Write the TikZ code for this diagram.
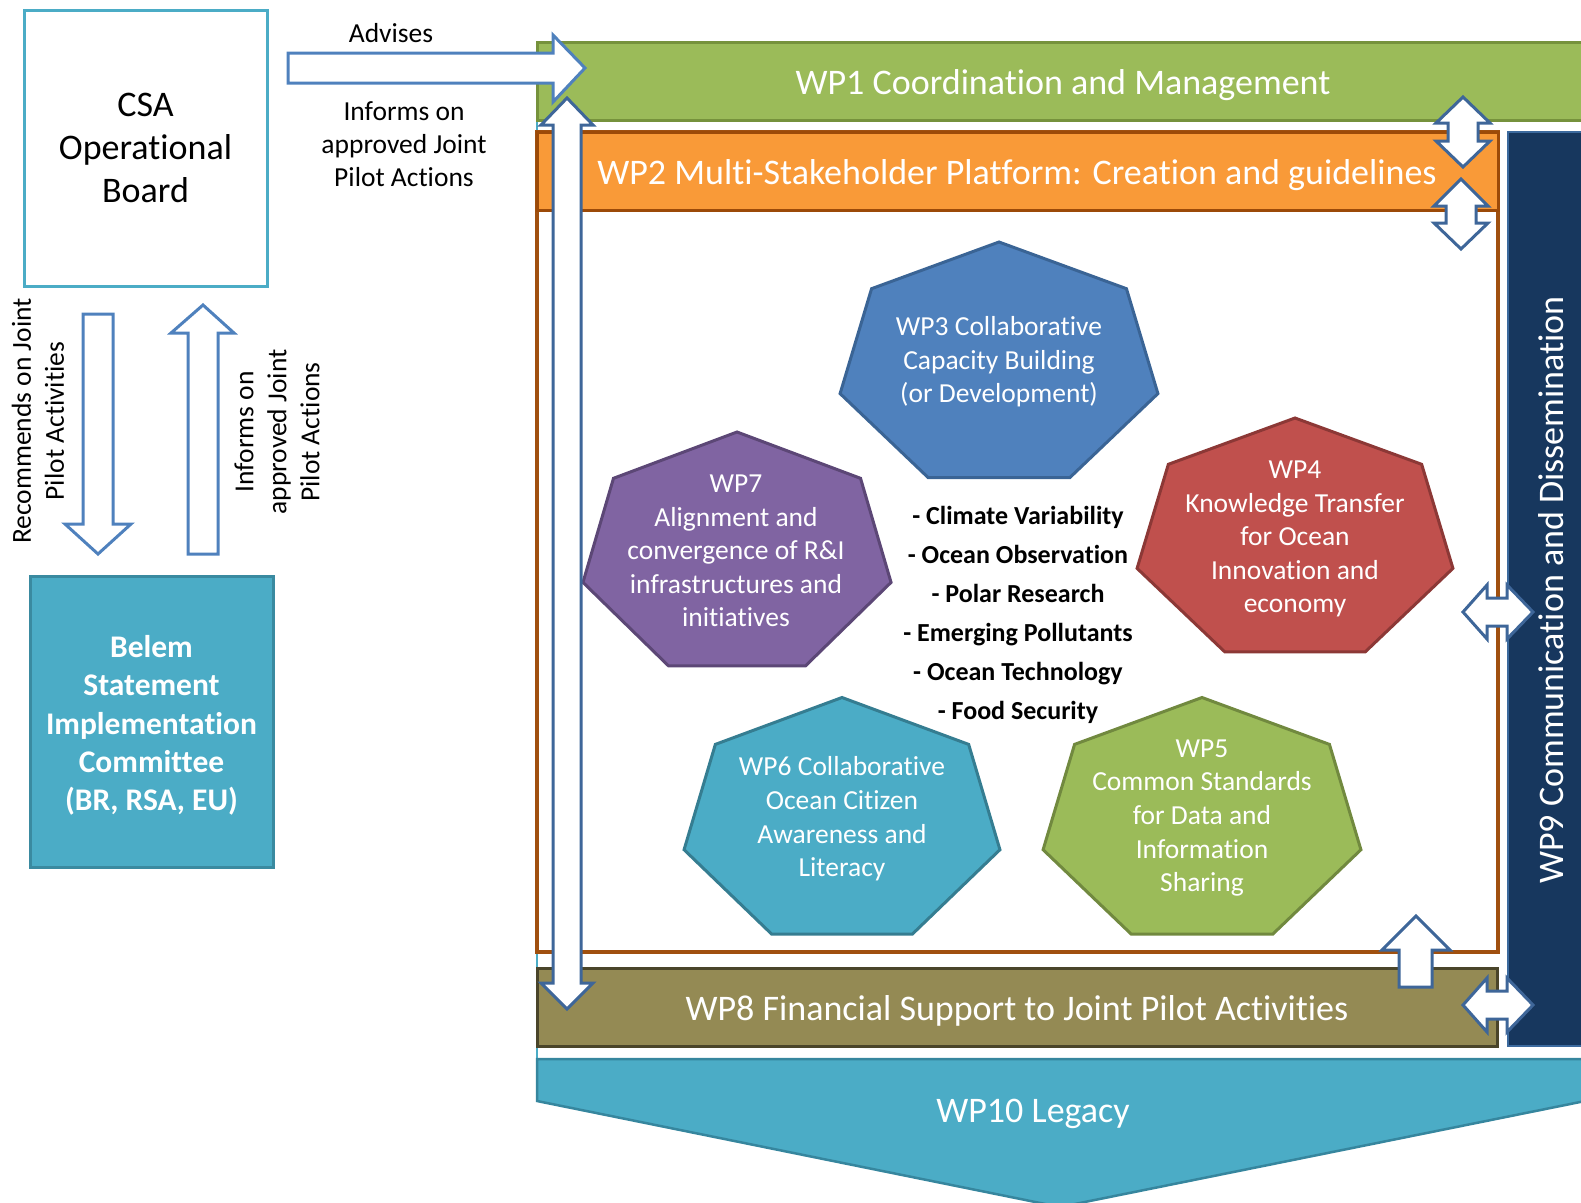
\documentclass[tikz,border=0pt]{standalone}
\usepackage{fontspec}
\setmainfont{Carlito}[Ligatures={NoCommon,NoContextual},Contextuals=NoAlternate]
\definecolor{csablue}{HTML}{4BACC6}
\definecolor{arrowblue}{HTML}{4F81BD}
\definecolor{arrowdark}{HTML}{3E6699}
\definecolor{wpone}{HTML}{9BBB59}
\definecolor{wponeline}{HTML}{76923C}
\definecolor{wptwo}{HTML}{F99A38}
\definecolor{wptwoline}{HTML}{9C4A08}
\definecolor{framecol}{HTML}{A0500F}
\definecolor{wpnine}{HTML}{17375E}
\definecolor{wpnineline}{HTML}{3C6A9E}
\definecolor{wpeight}{HTML}{948A54}
\definecolor{wpeightline}{HTML}{4A452A}
\definecolor{wpten}{HTML}{4BACC6}
\definecolor{wptenline}{HTML}{36869E}
\definecolor{belemfill}{HTML}{4BACC6}
\definecolor{belemline}{HTML}{3A8AA0}
\definecolor{hthree}{HTML}{4F81BD}
\definecolor{hthreeline}{HTML}{3A6495}
\definecolor{hseven}{HTML}{8064A2}
\definecolor{hsevenline}{HTML}{5C4776}
\definecolor{hfour}{HTML}{C0504D}
\definecolor{hfourline}{HTML}{8C3836}
\definecolor{hsix}{HTML}{4BACC6}
\definecolor{hsixline}{HTML}{357D91}
\definecolor{hfive}{HTML}{9BBB59}
\definecolor{hfiveline}{HTML}{71893F}
\newcommand\myheptagon[5]{%
  \draw[#5] ({#1},{#2-#4})
  \foreach \k in {1,...,6}{ -- ({#1+#3*cos(-90+\k*360/7)},{#2+#4*sin(-90+\k*360/7)}) } -- cycle;}
\begin{document}
\begin{tikzpicture}[x=1pt,y=-1pt,
  bigtext/.style={text=white,font=\fontsize{36}{43}\selectfont},
  smalllabel/.style={text=black,align=center,font=\fontsize{27.5}{33}\selectfont},
  hepttext/.style={text=white,align=center,font=\fontsize{27.5}{33.6}\selectfont},
  blockarrow/.style={draw=arrowblue,fill=white,line width=3pt,line join=miter},
  darkarrow/.style={draw=arrowdark,fill=white,line width=3pt,line join=miter},
  barbox/.style={line width=3pt,minimum height=78pt,inner sep=0pt,outer sep=0pt}]
\useasboundingbox (0,0) rectangle (1581,1202);
\clip (0,0) rectangle (1581,1202);
% thin left guide line
\draw[csablue,line width=1.2pt] (537,42) -- (537,1062);
% WP10 legacy
\draw[fill=wpten,draw=wptenline,line width=2.5pt] (537,1059) -- (1600,1059) -- (1600,1098) -- (1060,1207) -- (537,1101) -- cycle;
\node[bigtext] (wp10) at (1033,1114) {WP10 Legacy};
% WP1
\node[barbox,fill=wpone,draw=wponeline,minimum width=1063pt] (wp1) at (1068.5,81) {};
\node[bigtext] (wp1t) at (1063,85) {WP1 Coordination and Management};
% frame
\draw[framecol,line width=4pt] (537,132) rectangle (1498,952);
% WP2
\node[barbox,fill=wptwo,draw=wptwoline,minimum width=961pt] (wp2) at (1017.5,171) {};
\node[bigtext] (wp2t) at (1017,175) {WP2 Multi-Stakeholder Platform: Creation and guidelines};
% WP8
\node[barbox,fill=wpeight,draw=wpeightline,minimum width=960pt] (wp8) at (1017,1007) {};
\node[bigtext] (wp8t) at (1017,1011) {WP8 Financial Support to Joint Pilot Activities};
% WP9
\draw[fill=wpnine,draw=wpnineline,line width=2pt] (1508,132) rectangle (1600,1046);
\node[bigtext,rotate=90] (wp9) at (1551,590) {WP9 Communication and Dissemination};
% CSA board
\node[draw=csablue,line width=3pt,minimum width=243pt,minimum height=276pt,inner sep=0pt,
  align=center,font=\fontsize{36}{43}\selectfont] (csa) at (145.5,148) {CSA\\Operational\\Board};
% Belem committee
\node[draw=belemline,fill=belemfill,line width=3pt,minimum width=243pt,minimum height=291pt,inner sep=0pt,
  text=white] (belem) at (151.5,721.5) {};
\node[align=center,text=white,font=\bfseries\fontsize{31.5}{38.3}\selectfont] (belemt) at (151.5,725.5)
  {Belem\\Statement\\Implementation\\Committee\\(BR, RSA, EU)};
% heptagons
\myheptagon{999}{366}{163}{124}{fill=hthree,draw=hthreeline,line width=3pt}
\myheptagon{737}{555}{158}{123}{fill=hseven,draw=hsevenline,line width=3pt}
\myheptagon{1295}{541}{162}{123}{fill=hfour,draw=hfourline,line width=3pt}
\myheptagon{842}{822}{162}{124.5}{fill=hsix,draw=hsixline,line width=3pt}
\myheptagon{1202}{822}{163}{124.5}{fill=hfive,draw=hfiveline,line width=3pt}
\node[hepttext] (wp3) at (999,362) {WP3 Collaborative\\Capacity Building\\(or Development)};
\node[hepttext] (wp7) at (736,551) {WP7\\Alignment and\\convergence of R\&I\\infrastructures and\\initiatives};
\node[hepttext] (wp4) at (1295,539) {WP4\\Knowledge Transfer\\for Ocean\\Innovation and\\economy};
\node[hepttext] (wp6) at (842,819) {WP6 Collaborative\\Ocean Citizen\\Awareness and\\Literacy};
\node[hepttext] (wp5) at (1202,818) {WP5\\Common Standards\\for Data and\\Information\\Sharing};
\node[align=center,font=\bfseries\fontsize{26}{39}\selectfont] (topics) at (1018,615)
  {- Climate Variability\\- Ocean Observation\\- Polar Research\\- Emerging Pollutants\\- Ocean Technology\\- Food Security};
% labels
\node[smalllabel] (adv) at (391,33) {Advises};
\node[smalllabel] (inf) at (404,144) {Informs on\\approved Joint\\Pilot Actions};
\node[smalllabel,rotate=90] (rec) at (38,421) {Recommends on Joint\\Pilot Activities};
\node[smalllabel,rotate=90] (inf2) at (277,432) {Informs on\\approved Joint\\Pilot Actions};
% block arrows
\draw[blockarrow] (288,53) -- (553,53) -- (553,35) -- (585,68) -- (553,102) -- (553,83) -- (288,83) -- cycle;
\draw[blockarrow] (83,314) -- (113,314) -- (113,524) -- (131,524) -- (98,554) -- (65,524) -- (83,524) -- cycle;
\draw[blockarrow] (203,305) -- (234,333) -- (218,333) -- (218,554) -- (188,554) -- (188,333) -- (171,333) -- cycle;
\draw[darkarrow] (567,98) -- (593,125) -- (581,125) -- (581,983) -- (593,983) -- (567,1009) -- (541,983) -- (553,983) -- (553,125) -- (541,125) -- cycle;
\draw[darkarrow] (1463,97) -- (1490,123) -- (1478,123) -- (1478,141) -- (1490,141) -- (1463,167) -- (1436,141) -- (1448,141) -- (1448,123) -- (1436,123) -- cycle;
\draw[darkarrow] (1461,179) -- (1488,206) -- (1476,206) -- (1476,223) -- (1488,223) -- (1461,249) -- (1434,223) -- (1446,223) -- (1446,206) -- (1434,206) -- cycle;
\draw[darkarrow] (1463,612) -- (1487,585) -- (1487,598) -- (1507,598) -- (1507,585) -- (1533,612) -- (1507,639) -- (1507,626) -- (1487,626) -- (1487,639) -- cycle;
\draw[darkarrow] (1463,1005) -- (1487,978) -- (1487,991) -- (1507,991) -- (1507,978) -- (1533,1005) -- (1507,1032) -- (1507,1019) -- (1487,1019) -- (1487,1032) -- cycle;
\draw[darkarrow] (1416,916) -- (1450,950) -- (1432,950) -- (1432,987) -- (1399,987) -- (1399,950) -- (1382,950) -- cycle;
\end{tikzpicture}
\end{document}
